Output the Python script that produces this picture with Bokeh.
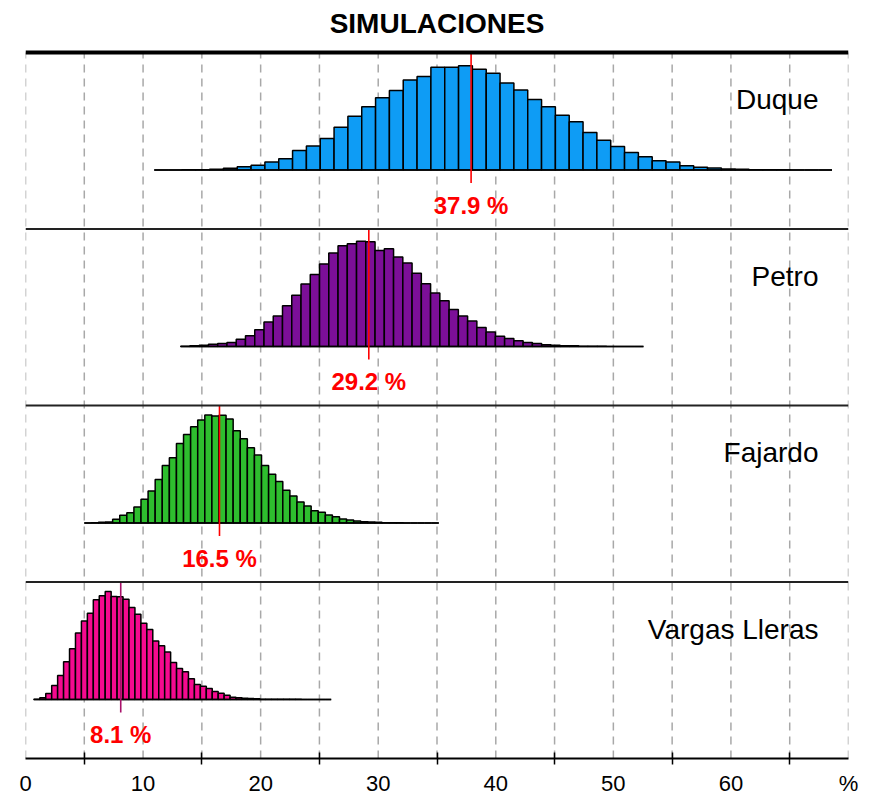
import numpy as np
from bokeh.plotting import figure
from bokeh.models import Range1d, FixedTicker, ColumnDataSource
from bokeh.core.properties import value
from bokeh.embed import file_html
from bokeh.resources import INLINE

# ---------------- data ----------------
title_text = "SIMULACIONES"
candidates = ["Duque", "Petro", "Fajardo", "Vargas Lleras"]
medians = [37.9, 29.2, 16.5, 8.1]
range_min = [10.95, 13.2, 5.0, 0.71]
range_max = [68.6, 52.56, 35.15, 26.0]

duque_counts = [0, 0, 0.5, 1, 2, 5, 10, 14, 24, 34,
                58, 72, 94, 128, 161, 189, 216, 238, 269, 280,
                307, 307, 312, 301, 289, 260, 239, 211, 189, 164,
                144, 112, 89, 70, 52, 40, 28, 24, 13, 8,
                6, 3, 2, 1, 1, 0.5, 0, 0, 0]
petro_counts = [0.5, 2, 4, 7, 9, 12, 22, 32, 50, 73,
                91, 122, 153, 187, 215, 247, 280, 301, 307, 315,
                313, 287, 292, 268, 250, 219, 188, 160, 137, 111,
                91, 76, 57, 43, 31, 24, 17, 12, 9, 5,
                4, 2, 2, 1, 1, 0.5, 0, 0, 0, 0]
fajardo_counts = [0, 1, 2, 3, 11, 23, 31, 48, 71, 96,
                  130, 172, 195, 238, 265, 288, 308, 323, 320, 322,
                  311, 276, 252, 225, 203, 172, 146, 124, 98, 81,
                  63, 51, 37, 32, 24, 19, 12, 9, 6, 4,
                  3, 2, 1, 1, 0.5, 0, 0, 0, 0, 0]
vargas_counts = [0.5, 5, 18, 42, 72, 113, 152, 199, 235, 258,
                 298, 310, 323, 308, 307, 300, 275, 255, 228, 209,
                 175, 161, 142, 111, 93, 83, 62, 45, 40, 33,
                 24, 19, 13, 7, 5, 4, 3, 2, 1, 1,
                 1, 1, 0.5, 0.5, 0.5, 0, 0, 0, 0, 0]
all_counts = [duque_counts, petro_counts, fajardo_counts, vargas_counts]

bar_colors = ["#0E9CF5", "#7C0F98", "#2EBE2E", "#F50A8F"]
median_colors = ["#FF0000", "#FF0000", "#FF0000", "#A8126A"]

tick_values = [0, 10, 20, 30, 40, 50, 60, 70]
tick_labels = ["0", "10", "20", "30", "40", "50", "60", "%"]
minor_tick_values = [5, 15, 25, 35, 45, 55, 65]

# ---------------- layout constants ----------------
X_MIN, X_MAX = 0, 70
N_PANELS = len(candidates)
PX_PER_UNIT = 176.5
TOP_EXTRA = 52 / PX_PER_UNIT
BASE_OFF = 59 / PX_PER_UNIT         # baseline above panel bottom
HSCALE = (108 / PX_PER_UNIT) / 323  # bar height per count unit
FONT = value("Liberation Sans")
Y_TOP = N_PANELS + TOP_EXTRA

W, H = 875, 798
p = figure(width=W, height=H, output_backend="svg", toolbar_location=None,
           x_range=Range1d(X_MIN, X_MAX), y_range=Range1d(0, Y_TOP),
           y_axis_location=None, min_border_left=25, min_border_right=27,
           min_border_top=0, min_border_bottom=40)
p.outline_line_color = None
p.xgrid.visible = False
p.ygrid.visible = False
p.background_fill_color = "white"
p.border_fill_color = "white"

# dashed vertical grid
grid_values = sorted(tick_values + minor_tick_values)
p.segment(x0=grid_values, x1=grid_values, y0=[0] * len(grid_values),
          y1=[N_PANELS] * len(grid_values), line_color="#A8A8A8",
          line_width=1.5, line_dash="8 6")

for i, (name, med, lo, hi, counts) in enumerate(
        zip(candidates, medians, range_min, range_max, all_counts)):
    panel_bottom = N_PANELS - 1 - i
    panel_top = panel_bottom + 1
    base = panel_bottom + BASE_OFF
    n = len(counts)
    edges = np.linspace(lo, hi, n + 1)
    src = ColumnDataSource(dict(
        left=edges[:-1], right=edges[1:],
        bottom=[base] * n, top=[base + c * HSCALE for c in counts]))
    p.quad(left="left", right="right", bottom="bottom", top="top", source=src,
           fill_color=bar_colors[i], line_color="black", line_width=1.5)
    # baseline of the histogram
    p.line(x=[lo, hi], y=[base, base], line_color="black", line_width=1.5)
    # median line
    p.line(x=[med, med], y=[panel_top, base - 13 / PX_PER_UNIT],
           line_color=median_colors[i], line_width=1.6)
    # median label
    p.text(x=[med], y=[base - 35 / PX_PER_UNIT], text=[f"{med} %"],
           text_font=FONT, text_font_size="24px", text_font_style="bold",
           text_color="#FF0000", text_align="center", text_baseline="alphabetic")
    # candidate name
    p.text(x=[67.45], y=[panel_top - 47 / PX_PER_UNIT], text=[name],
           text_font=FONT, text_font_size="28px", text_color="black",
           text_align="right", text_baseline="alphabetic")

# panel separators
sep_y = list(range(1, N_PANELS))
p.segment(x0=[X_MIN] * len(sep_y), x1=[X_MAX] * len(sep_y), y0=sep_y, y1=sep_y,
          line_color="#222222", line_width=2)
p.line(x=[X_MIN, X_MAX], y=[N_PANELS, N_PANELS], line_color="black", line_width=4)

# title
p.text(x=[(X_MIN + X_MAX) / 2], y=[Y_TOP - 22.5 / PX_PER_UNIT],
       text=[title_text], text_font=FONT, text_font_size="28px",
       text_font_style="bold", text_color="black", text_align="center",
       text_baseline="alphabetic")

# bottom axis
ax = p.xaxis[0]
ax.ticker = FixedTicker(ticks=tick_values, minor_ticks=minor_tick_values)
ax.major_label_overrides = {v: l for v, l in zip(tick_values, tick_labels)}
ax.major_tick_line_color = None
ax.major_tick_out = 0
ax.major_tick_in = 0
ax.minor_tick_line_color = "black"
ax.minor_tick_line_width = 1.5
ax.minor_tick_in = 6
ax.minor_tick_out = 6
ax.axis_line_color = "black"
ax.axis_line_width = 2
ax.major_label_text_font = "Liberation Sans"
ax.major_label_text_font_size = "22px"
ax.major_label_text_color = "black"
ax.major_label_standoff = 6

open("out.html", "w").write(file_html(p, INLINE))
